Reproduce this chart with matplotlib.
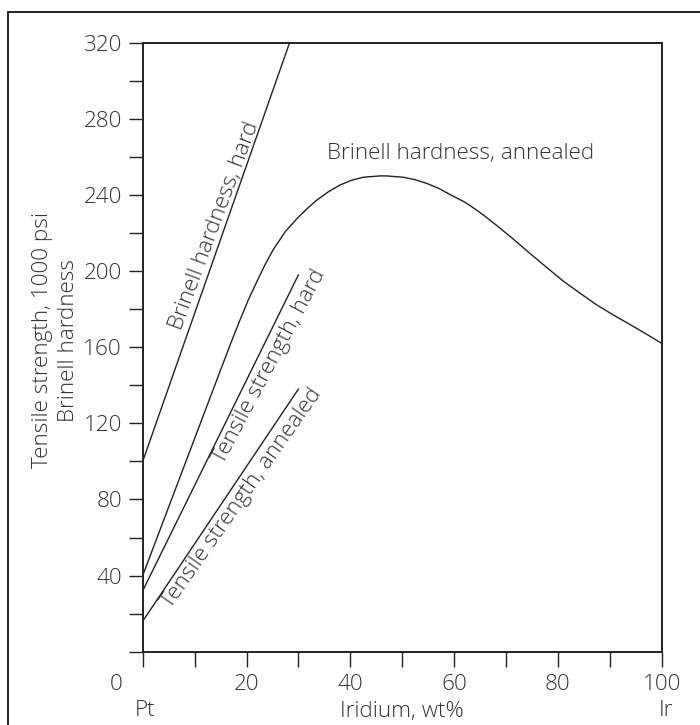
import matplotlib
matplotlib.use("Agg")
import matplotlib.pyplot as plt
import matplotlib.transforms as mtransforms
from matplotlib.patches import Rectangle

# ---- data ----
brinell_hard_x = [0, 28.3]
brinell_hard_y = [100, 320]

tensile_hard_x = [0, 30]
tensile_hard_y = [32, 198]

tensile_annealed_x = [0, 30]
tensile_annealed_y = [16, 138]

brinell_annealed_x = [0, 5, 10, 15, 17, 18.7, 20.3, 22, 23.6, 25.2, 27.5, 29.7, 31.6,
                      33.5, 35.8, 38, 40.2, 42.5, 45.7, 47, 50.2, 52.5, 54.7, 57, 59.5,
                      62, 64, 66, 68.2, 71.4, 74.6, 77.8, 81, 84.3, 87.5, 90.7, 93.9, 97.1, 100]
brinell_annealed_y = [40, 76, 112, 148, 162.3, 174, 184.5, 194.5, 203.5, 211.5, 220.8, 227.5, 232.6,
                      237.2, 241.7, 245.2, 247.7, 249.3, 250, 250, 249.3, 248, 246.1, 243.5, 239.8,
                      236.3, 232.7, 228.7, 224, 216.8, 209.3, 202, 194.8, 188.3, 182.2, 176.9, 171.9, 166.8, 162]

y_ticks = list(range(0, 321, 20))
y_tick_labels = [str(v) if (v % 40 == 0 and v > 0) else "" for v in y_ticks]
x_ticks = list(range(0, 101, 10))
x_tick_labels = [str(v) if (v % 20 == 0 and v > 0) else "" for v in x_ticks]

labels = {
    "bh": "Brinell hardness, hard",
    "th": "Tensile strength, hard",
    "ta": "Tensile strength, annealed",
    "ba": "Brinell hardness, annealed",
}

# ---- style ----
plt.rcParams['font.family'] = ['Open Sans', 'DejaVu Sans']
plt.rcParams['font.weight'] = 'light'
INK = "#222222"
TXT = "#333333"
FS = 16.2

W, H = 700, 725
fig = plt.figure(figsize=(W / 100, H / 100), dpi=100)
ax = fig.add_axes([142.7 / W, 1 - 651.7 / H, (661.7 - 142.7) / W, (651.7 - 42.7) / H])

lw = 1.0
ax.plot(brinell_hard_x, brinell_hard_y, color=INK, lw=lw, clip_on=False)
ax.plot(tensile_hard_x, tensile_hard_y, color=INK, lw=lw)
ax.plot(tensile_annealed_x, tensile_annealed_y, color=INK, lw=lw)
ax.plot(brinell_annealed_x, brinell_annealed_y, color=INK, lw=lw)

ax.set_xlim(0, 100)
ax.set_ylim(0, 320)
ax.set_xticks(x_ticks)
ax.set_xticklabels(x_tick_labels)
ax.set_yticks(y_ticks)
ax.set_yticklabels(y_tick_labels)
ax.tick_params(axis='y', direction='out', length=10, width=1.0, color=INK,
               labelsize=FS, labelcolor=TXT, pad=5)
ax.tick_params(axis='x', direction='out', length=11, width=1.0, color=INK,
               labelsize=FS, labelcolor=TXT, pad=5)
for s in ax.spines.values():
    s.set_linewidth(1.4)
    s.set_color(INK)

# rotated curve labels
ax.text(13.8, 224, labels["bh"], rotation=69.5, rotation_mode='anchor',
        ha='center', va='center', fontsize=FS, color=TXT)
ax.text(24.4, 150, labels["th"], rotation=62, rotation_mode='anchor',
        ha='center', va='center', fontsize=FS, color=TXT)
ax.text(19.2, 80.5, labels["ta"], rotation=55, rotation_mode='anchor',
        ha='center', va='center', fontsize=FS, color=TXT)
ax.text(61.2, 262, labels["ba"], ha='center', va='center', fontsize=FS, color=TXT)

# axis texts
tr = mtransforms.blended_transform_factory(ax.transData, fig.transFigure)
ax.text(-5.1, 1 - 690 / H, "0", transform=tr, ha='center', va='baseline',
        fontsize=FS, color=TXT, clip_on=False)
ax.text(0.5, 1 - 716.5 / H, "Pt", transform=tr, ha='center', va='baseline',
        fontsize=FS, color=TXT, clip_on=False)
ax.text(100.8, 1 - 716.5 / H, "Ir", transform=tr, ha='center', va='baseline',
        fontsize=FS, color=TXT, clip_on=False)
ax.text(50, 1 - 716.5 / H, "Iridium, wt%", transform=tr, ha='center', va='baseline',
        fontsize=FS, color=TXT, clip_on=False)

fig.text(43 / W, 1 - 340 / H, "Tensile strength, 1000 psi", rotation=90,
         ha='center', va='center', fontsize=FS, color=TXT)
fig.text(69 / W, 1 - 340 / H, "Brinell hardness", rotation=90,
         ha='center', va='center', fontsize=FS, color=TXT)

# outer frame (only left and top edges visible)
fig.patches.append(Rectangle((8.3 / W, -0.2), 2.0, 1.2 - 11.7 / H,
                             transform=fig.transFigure, fill=False,
                             edgecolor=INK, lw=1.4, clip_on=False))

fig.savefig("out.png", dpi=100)
